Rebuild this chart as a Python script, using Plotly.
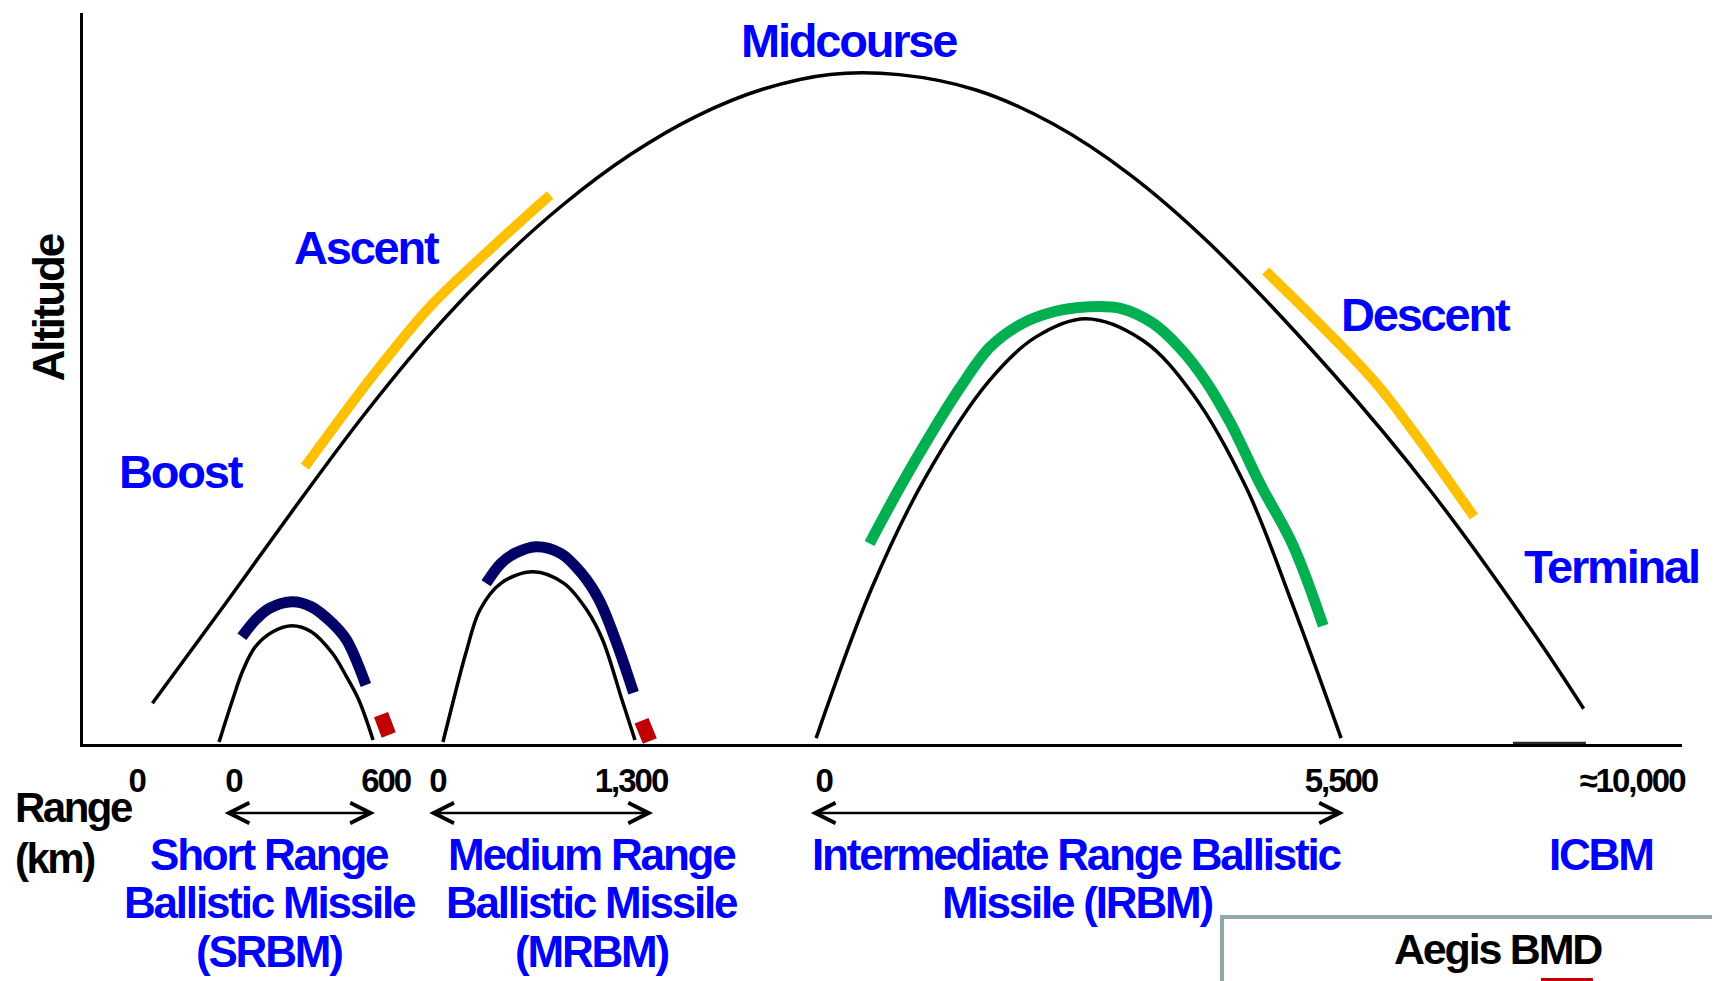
import plotly.graph_objects as go

# ---------------- data (schematic units: range 0-100, altitude 0-100) ----------------
icbm_x = [4.34, 8.87, 13.33, 17.53, 21.70, 25.87, 30.04, 34.21, 38.38, 42.55, 46.72, 51.04,
          55.85, 60.65, 65.45, 70.46, 78.14, 84.31, 90.62, 93.85]
icbm_y = [5.58, 19.09, 32.59, 44.90, 56.00, 65.60, 73.80, 80.60, 85.90, 89.60, 91.60, 91.57,
          89.47, 84.84, 77.93, 68.46, 50.75, 34.54, 15.49, 4.83]
icbm_impact_x = [89.43, 93.99]
icbm_impact_y = [0.0, 0.0]

ascent_x = [13.88, 16.49, 18.57, 21.70, 25.87, 29.21]
ascent_y = [37.93, 45.69, 51.61, 59.82, 68.50, 75.10]
descent_x = [73.96, 80.61, 83.08, 86.99]
descent_y = [64.71, 50.00, 43.10, 31.09]

srbm_x = [8.51, 9.35, 10.01, 10.78, 11.87, 13.08, 14.28, 15.60, 16.48, 17.25, 18.14]
srbm_y = [0.27, 6.02, 10.12, 13.31, 15.36, 16.18, 15.36, 12.41, 9.21, 6.02, 0.55]
srbm_seg_x = [9.94, 10.78, 11.65, 13.08, 14.28, 15.60, 16.48, 17.69]
srbm_seg_y = [14.68, 16.96, 18.56, 19.47, 18.78, 16.51, 14.23, 8.07]
srbm_term_x = [18.64, 19.12]
srbm_term_y = [4.01, 1.23]

mrbm_x = [22.51, 23.17, 23.94, 24.82, 26.13, 28.15, 30.08, 31.51, 32.50, 33.71, 34.52]
mrbm_y = [0.27, 6.02, 12.41, 18.33, 21.98, 23.57, 21.98, 18.33, 14.23, 6.02, 0.55]
mrbm_seg_x = [25.21, 26.14, 27.01, 28.33, 29.86, 31.18, 32.28, 33.38, 34.43]
mrbm_seg_y = [21.98, 24.72, 26.09, 26.99, 26.09, 23.35, 19.70, 13.77, 7.02]
mrbm_term_x = [34.93, 35.45]
mrbm_term_y = [3.18, 0.41]

irbm_x = [45.85, 49.31, 52.66, 56.68, 59.58, 62.71, 66.29, 69.41, 72.76, 75.67, 78.68]
irbm_y = [0.81, 21.23, 36.37, 49.70, 55.66, 58.18, 55.20, 47.85, 35.01, 18.93, 0.81]
irbm_seg_x = [49.19, 51.09, 52.97, 54.85, 56.72, 58.60, 60.48, 62.91, 64.94, 66.95, 68.60,
              70.17, 71.73, 73.65, 75.67, 77.56]
irbm_seg_y = [27.43, 35.12, 42.18, 48.74, 54.28, 57.36, 59.00, 59.80, 59.56, 57.50, 54.17,
              49.79, 44.05, 35.43, 27.20, 16.18]

tick_pos = [3.35, 9.40, 18.93, 22.16, 34.27, 46.32, 78.67, 96.87]
tick_text = ["0", "0", "600", "0", "1,300", "0", "5,500", "≈10,000"]

phase_labels = ["Midcourse", "Ascent", "Boost", "Descent", "Terminal"]
phase_x = [47.89, 17.78, 6.19, 83.97, 95.56]
phase_y = [96.22, 67.86, 37.25, 58.70, 24.34]

range_spans = [(8.76, 18.26), (21.56, 35.65), (45.42, 78.86)]
span_y = -0.0944  # paper units below the range axis

class_lines = [
    ["Short Range", "Ballistic Missile", "(SRBM)"],
    ["Medium Range", "Ballistic Missile", "(MRBM)"],
    ["Intermediate Range Ballistic", "Missile (IRBM)"],
    ["ICBM"],
]
class_x = [11.65, 31.81, 62.16, 94.95]
class_line_y = [-0.1513, -0.2173, -0.2833]

# ---------------- style ----------------
FONT = "Liberation Sans, Arial, Helvetica, sans-serif"
BLUE = "#0000FF"
NAVY = "#000066"
YELLOW = "#FFC000"
GREEN = "#00B050"
RED = "#C00000"


def narrow(t, ls=-2.2):
    return f'<span style="letter-spacing:{ls}px">{t}</span>'


fig = go.Figure()


def add_line(x, y, color, width, shape="spline"):
    fig.add_trace(go.Scatter(x=x, y=y, mode="lines", showlegend=False, hoverinfo="skip",
                             line=dict(color=color, width=width, shape=shape, smoothing=1.0),
                             cliponaxis=False))


add_line(icbm_x, icbm_y, "black", 3.5)
add_line(icbm_impact_x, icbm_impact_y, "#2b2b2b", 4.5, "linear")
add_line(ascent_x, ascent_y, YELLOW, 10)
add_line(descent_x, descent_y, YELLOW, 10)
add_line(srbm_x, srbm_y, "black", 3.5)
add_line(srbm_seg_x, srbm_seg_y, NAVY, 11)
add_line(srbm_term_x, srbm_term_y, RED, 15, "linear")
add_line(mrbm_x, mrbm_y, "black", 3.5)
add_line(mrbm_seg_x, mrbm_seg_y, NAVY, 11)
add_line(mrbm_term_x, mrbm_term_y, RED, 15, "linear")
add_line(irbm_x, irbm_y, "black", 3.5)
add_line(irbm_seg_x, irbm_seg_y, GREEN, 11)

ann = []
for t, x, y in zip(phase_labels, phase_x, phase_y):
    ann.append(dict(text=narrow(t), x=x, y=y, xref="x", yref="y", showarrow=False,
                    xanchor="center", yanchor="middle",
                    font=dict(family=FONT, size=47, color=BLUE, weight="bold")))

ann.append(dict(text=narrow("Altitude"), x=-0.0219, y=0.5975, xref="paper", yref="paper",
                showarrow=False, textangle=-90, xanchor="center", yanchor="middle",
                font=dict(family=FONT, size=44, color="black", weight="bold")))
ann.append(dict(text=narrow("Range", -2.5), x=-0.0438, y=-0.0875, xref="paper", yref="paper",
                showarrow=False, xanchor="left", yanchor="middle",
                font=dict(family=FONT, size=42, color="black", weight="bold")))
ann.append(dict(text=narrow("(km)", -2.5), x=-0.0438, y=-0.1573, xref="paper", yref="paper",
                showarrow=False, xanchor="left", yanchor="middle",
                font=dict(family=FONT, size=42, color="black", weight="bold")))

for x0, x1 in range_spans:
    ann.append(dict(text="", x=x1, y=span_y, ax=x0, ay=0, xref="x", yref="paper",
                    axref="x", ayref="pixel", showarrow=True, arrowhead=5, startarrowhead=5,
                    arrowside="end+start", arrowwidth=2.5, arrowsize=1.6,
                    startarrowsize=1.6, arrowcolor="black"))

for lines, cx in zip(class_lines, class_x):
    for t, ly in zip(lines, class_line_y):
        ann.append(dict(text=narrow(t), x=cx, y=ly, xref="x", yref="paper", showarrow=False,
                        xanchor="center", yanchor="middle",
                        font=dict(family=FONT, size=44, color=BLUE, weight="bold")))

# Aegis BMD key box (cut off at the bottom of the figure)
ann.append(dict(text=narrow("Aegis BMD"), x=0.885, y=-0.2804, xref="paper", yref="paper",
                showarrow=False, xanchor="center", yanchor="middle",
                font=dict(family=FONT, size=43, color="black", weight="bold")))

shapes = [
    dict(type="rect", xref="paper", yref="paper", x0=0.7123, x1=1.0213, y0=-0.2367, y1=-0.42,
         line=dict(color="#8FA7AA", width=4), fillcolor="rgba(0,0,0,0)", layer="above"),
    dict(type="rect", xref="paper", yref="paper", x0=0.9118, x1=0.9443, y0=-0.3201, y1=-0.34,
         line=dict(width=0), fillcolor=RED, layer="above"),
]

fig.update_layout(
    width=1712, height=973,
    margin=dict(l=75, r=38, t=5, b=237, autoexpand=False),
    paper_bgcolor="white", plot_bgcolor="white",
    showlegend=False,
    annotations=ann, shapes=shapes,
    xaxis=dict(range=[0, 100], showline=True, linecolor="black", linewidth=3,
               showgrid=False, zeroline=False, ticks="",
               tickmode="array", tickvals=tick_pos,
               ticktext=[narrow(t, -2) for t in tick_text],
               tickfont=dict(family=FONT, size=33, color="black", weight="bold"),
               ticklabelstandoff=5, fixedrange=True),
    yaxis=dict(range=[0, 100], showline=True, linecolor="black", linewidth=3,
               showgrid=False, zeroline=False, ticks="", showticklabels=False,
               fixedrange=True),
)

fig.write_html("out.html")
